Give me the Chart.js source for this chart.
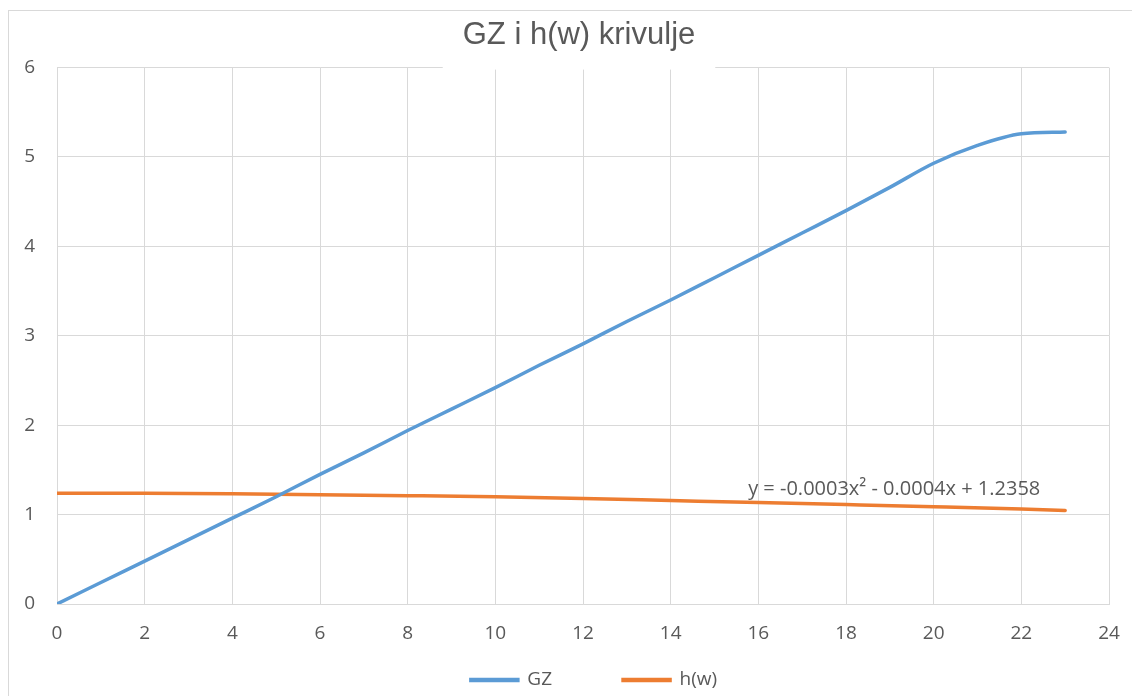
<!DOCTYPE html>
<html>
<head>
<meta charset="utf-8">
<script src="https://cdn.jsdelivr.net/npm/chart.js@4.4.1/dist/chart.umd.min.js"></script>
<style>
  html, body { margin: 0; padding: 0; background: #fff; overflow: hidden; }
  #frame { position: absolute; left: 8px; top: 10px; width: 1141px; height: 700px; border: 1px solid #d9d9d9; }
  canvas { display: block; }
</style>
</head>
<body>
<div id="frame"><canvas id="chart" width="1141" height="700"></canvas></div>
<script>
// GZ curve
const gzX = [0, 1, 2, 3, 4, 5, 6, 7, 8, 9, 10, 11, 12, 13, 14, 15, 16, 17, 18, 19, 20, 21, 22, 23];
const gzY = [0.00, 0.24, 0.48, 0.72, 0.96, 1.20, 1.45, 1.69, 1.94, 2.18, 2.42, 2.67, 2.91, 3.16, 3.40, 3.65, 3.90, 4.15, 4.40, 4.66, 4.93, 5.13, 5.26, 5.28];

// h(w) curve
const hwX = [0, 2, 4, 6, 8, 10, 12, 14, 16, 18, 20, 22, 23];
const hwY = [1.239, 1.238, 1.232, 1.223, 1.212, 1.199, 1.180, 1.157, 1.134, 1.112, 1.089, 1.063, 1.046];

const seriesNames = ['GZ', 'h(w)'];
const chartTitle = 'GZ i h(w) krivulje';
const trendText = 'y = -0.0003x\u00b2 - 0.0004x + 1.2358';
const trendAt = { x: 19.1, y: 1.28 };

const textColor = '#595959';
const gridColor = '#d9d9d9';
const titleFont = { family: 'Liberation Sans', size: 31, weight: 'normal' };

const toPoints = (xs, ys) => xs.map((x, i) => ({ x: x, y: ys[i] }));

// white patch behind the title, over the top gridline
const titleBackdrop = {
    id: 'titleBackdrop',
    beforeDatasetsDraw(chart) {
        const ctx = chart.ctx;
        const tb = chart.titleBlock;
        ctx.save();
        ctx.font = titleFont.size + 'px "' + titleFont.family + '"';
        const w = ctx.measureText(chartTitle).width + 40;
        const cx = (tb.left + tb.right) / 2;
        ctx.fillStyle = '#fff';
        ctx.fillRect(cx - w / 2, chart.chartArea.top - 6, w, 8);
        ctx.restore();
    }
};

// trendline equation label
const trendLabel = {
    id: 'trendLabel',
    afterDatasetsDraw(chart) {
        const ctx = chart.ctx;
        const px = chart.scales.x.getPixelForValue(trendAt.x);
        const py = chart.scales.y.getPixelForValue(trendAt.y);
        ctx.save();
        ctx.font = '20px "Open Sans"';
        ctx.fillStyle = textColor;
        ctx.textAlign = 'center';
        ctx.textBaseline = 'middle';
        ctx.fillText(trendText, px, py);
        ctx.restore();
    }
};

// put title and legend where the original has them
const boxPlace = {
    id: 'boxPlace',
    afterLayout(chart) {
        const tb = chart.titleBlock;
        tb.left += 20;
        tb.right += 20;
        const lg = chart.legend;
        lg.top = chart.chartArea.bottom + 76 - lg.options.labels.padding - 9.5;
        lg.bottom = chart.height;
        lg.left += 35;
        lg.right += 35;
    }
};

const chart = new Chart(document.getElementById('chart'), {
    type: 'line',
    data: {
        datasets: [{
            label: seriesNames[0],
            data: toPoints(gzX, gzY),
            borderColor: '#5B9BD5',
            backgroundColor: '#5B9BD5',
            borderWidth: 3.5,
            borderCapStyle: 'round',
            cubicInterpolationMode: 'monotone',
            pointRadius: 0
        }, {
            label: seriesNames[1],
            data: toPoints(hwX, hwY),
            borderColor: '#ED7D31',
            backgroundColor: '#ED7D31',
            borderWidth: 3.5,
            borderCapStyle: 'round',
            cubicInterpolationMode: 'monotone',
            pointRadius: 0
        }]
    },
    options: {
        responsive: false,
        animation: false,
        layout: { padding: { top: 0, bottom: 27, left: 0, right: 41 } },
        scales: {
            x: {
                type: 'linear',
                min: 0,
                max: 24,
                afterFit: scale => { scale.height = 50; },
                grid: { color: gridColor, drawTicks: false },
                border: { color: gridColor },
                ticks: { stepSize: 2, padding: 18, color: textColor, font: { family: 'Open Sans', size: 19 } }
            },
            y: {
                min: 0,
                max: 6,
                afterFit: scale => { scale.width = 48; },
                grid: { color: gridColor, drawTicks: false },
                border: { color: gridColor },
                ticks: { stepSize: 1, padding: 22, color: textColor, font: { family: 'Open Sans', size: 19 } }
            }
        },
        plugins: {
            title: {
                display: true,
                text: chartTitle,
                color: textColor,
                font: titleFont,
                padding: { top: 6.2, bottom: 13.2 }
            },
            legend: {
                position: 'bottom',
                maxHeight: 30,
                labels: {
                    boxWidth: 47,
                    boxHeight: 1,
                    padding: 71,
                    color: textColor,
                    font: { family: 'Open Sans', size: 19 }
                }
            },
            tooltip: { enabled: false }
        }
    },
    plugins: [titleBackdrop, trendLabel, boxPlace]
});
</script>
</body>
</html>
